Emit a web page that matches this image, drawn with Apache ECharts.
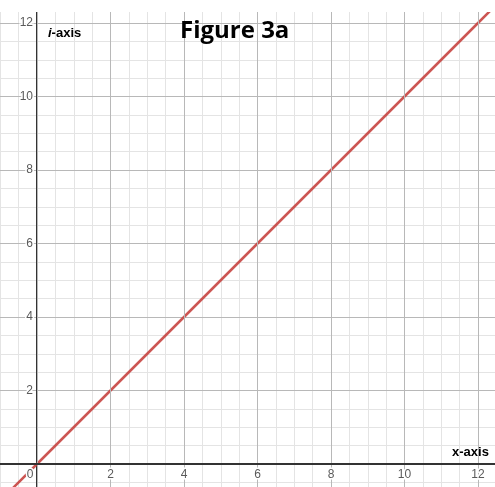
<!DOCTYPE html>
<html>
<head>
<meta charset="utf-8">
<script src="https://cdn.jsdelivr.net/npm/echarts@6/dist/echarts.min.js"></script>
<style>
html,body{margin:0;padding:0;background:#fff;}
#c{width:495px;height:487px;}
</style>
</head>
<body>
<div id="c"></div>
<script>
// Data: the line i = x
const lineX = [-1, 0, 2, 4, 6, 8, 10, 12, 13];
const lineY = [-1, 0, 2, 4, 6, 8, 10, 12, 13];
// Tick labels
const xTickLabels = ['0', '2', '4', '6', '8', '10', '12'];
const yTickLabels = ['2', '4', '6', '8', '10', '12'];
const titleText = 'Figure 3a';
const xAxisName = 'x-axis';
const yAxisName = 'i-axis';

const points = lineX.map((x, i) => [x, lineY[i]]);

const labelStyle = {
  color: '#5a5a5a',
  fontFamily: 'Liberation Sans, Arial, sans-serif',
  fontSize: 12,
  textBorderColor: '#fff',
  textBorderWidth: 3
};

const minorGrid = {show: true, lineStyle: {color: '#e4e4e4', width: 1}};
const majorGrid = {show: true, lineStyle: {color: '#b8b8b8', width: 1}};

const chart = echarts.init(document.getElementById('c'), null, {renderer: 'canvas'});
chart.setOption({
  animation: false,
  backgroundColor: '#fff',
  title: [
    {text: titleText, left: 180, top: 19, padding: 0,
     textStyle: {fontFamily: 'Open Sans', fontWeight: 'bold', fontSize: 24, color: '#000'}},
    {text: '{it|i}{n|-axis}', left: 48, top: 27, padding: 0,
     textStyle: {rich: {
       it: {fontFamily: 'Liberation Sans', fontStyle: 'italic', fontWeight: 'bold', fontSize: 13, color: '#000'},
       n: {fontFamily: 'Liberation Sans', fontWeight: 'bold', fontSize: 13, color: '#000'}
     }}},
    {text: xAxisName, left: 452, top: 446, padding: 0,
     textStyle: {fontFamily: 'Liberation Sans', fontWeight: 'bold', fontSize: 13, color: '#000'}}
  ],
  grid: {left: -36.5, right: -1.375, top: 4.625, bottom: -50.5, containLabel: false, outerBoundsMode: 'none'},
  xAxis: [
    {type: 'value', min: -2, max: 12.5, interval: 2, z: 4, position: 'bottom', offset: -73.5,
     axisLine: {show: true, onZero: false, lineStyle: {color: '#333', width: 2}},
     axisTick: {show: false},
     splitLine: majorGrid,
     axisLabel: Object.assign({}, labelStyle, {
       margin: 5,
       showMaxLabel: false,
       formatter: v => {
         const s = String(v);
         if (!xTickLabels.includes(s)) return '';
         return s === '0' ? '{z|0}' : s;
       },
       rich: {z: {color: '#5a5a5a', fontFamily: 'Liberation Sans', fontSize: 12,
                  textBorderColor: '#fff', textBorderWidth: 3, padding: [0, 14, 0, 0]}}
     })},
    {type: 'value', min: -2, max: 12.5, interval: 0.5, z: 0,
     axisLine: {show: false}, axisTick: {show: false}, axisLabel: {show: false},
     splitLine: minorGrid}
  ],
  yAxis: [
    {type: 'value', min: -2, max: 12.5, interval: 2, z: 1, position: 'left', offset: -73.5,
     axisLine: {show: true, onZero: false, lineStyle: {color: '#333', width: 2}},
     axisTick: {show: false},
     splitLine: majorGrid,
     axisLabel: Object.assign({}, labelStyle, {
       margin: 4,
       showMaxLabel: false,
       formatter: v => yTickLabels.includes(String(v)) ? String(v) : ''
     })},
    {type: 'value', min: -2, max: 12.5, interval: 0.5, z: 0,
     axisLine: {show: false}, axisTick: {show: false}, axisLabel: {show: false},
     splitLine: minorGrid}
  ],
  graphic: [
    {type: 'rect', left: 0, top: 0, shape: {width: 495, height: 12}, style: {fill: '#fff'}, z: 100, silent: true}
  ],
  series: [{
    type: 'line',
    xAxisIndex: 0, yAxisIndex: 0,
    data: points,
    showSymbol: false,
    symbol: 'none',
    z: 3,
    lineStyle: {color: '#c74440', width: 2.5, opacity: 0.9}
  }]
});
</script>
</body>
</html>
